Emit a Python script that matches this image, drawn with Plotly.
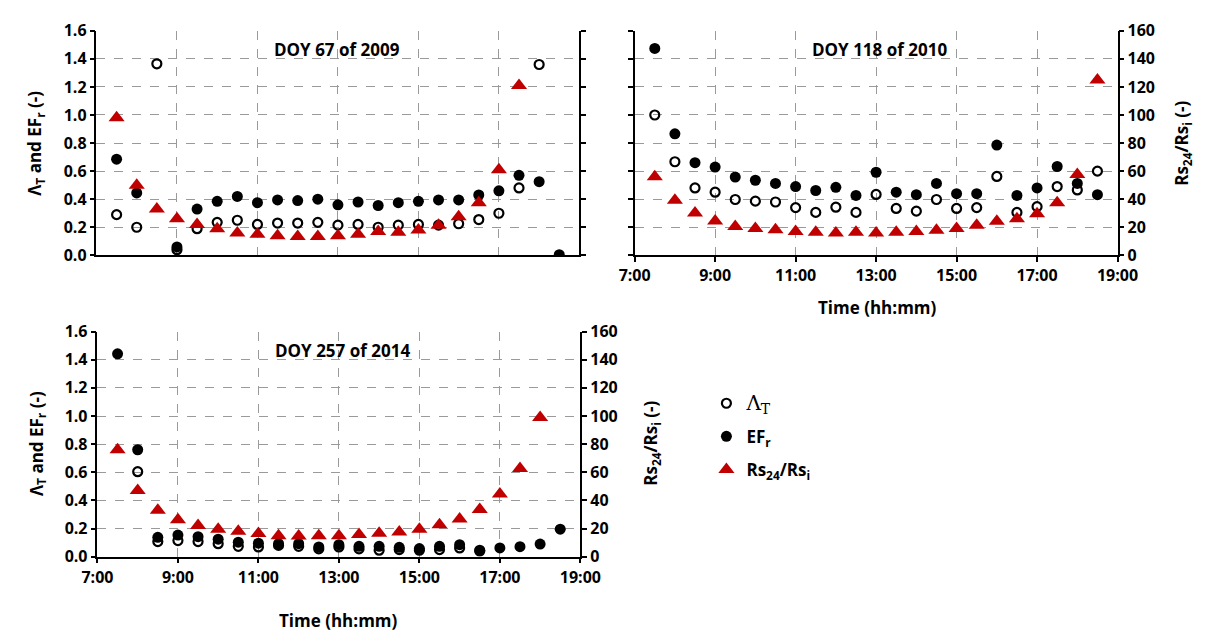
import plotly.graph_objects as go

# ---------------- data ----------------
times = ["7:30", "8:00", "8:30", "9:00", "9:30", "10:00", "10:30", "11:00", "11:30", "12:00",
         "12:30", "13:00", "13:30", "14:00", "14:30", "15:00", "15:30", "16:00", "16:30",
         "17:00", "17:30", "18:00", "18:30"]

# DOY 67 of 2009
lam_2009 = [0.29, 0.20, 1.365, 0.04, 0.19, 0.235, 0.25, 0.22, 0.23, 0.23, 0.235, 0.215, 0.22,
            0.20, 0.215, 0.22, 0.215, 0.225, 0.255, 0.30, 0.48, 1.36, None]
ef_2009 = [0.685, 0.445, None, 0.06, 0.33, 0.385, 0.42, 0.375, 0.395, 0.39, 0.40, 0.36, 0.38,
           0.355, 0.375, 0.385, 0.395, 0.395, 0.43, 0.46, 0.57, 0.525, 0.005]
rs_2009 = [98, 50, 33, 26, 22, 19, 16, 15, 14, 13.5, 13.5, 14, 15, 17, 16.5, 18, 21.5, 27.5,
           37.5, 61, 121, None, None]

# DOY 118 of 2010
lam_2010 = [1.00, 0.667, 0.48, 0.45, 0.398, 0.386, 0.38, 0.34, 0.306, 0.343, 0.306, 0.434,
            0.334, 0.315, 0.398, 0.334, 0.34, 0.562, 0.306, 0.347, 0.49, 0.466, 0.60]
ef_2010 = [1.474, 0.866, 0.66, 0.629, 0.558, 0.535, 0.512, 0.49, 0.462, 0.485, 0.427, 0.592,
           0.45, 0.432, 0.512, 0.439, 0.439, 0.786, 0.427, 0.48, 0.633, 0.512, 0.432]
rs_2010 = [56, 39.3, 30.2, 24.5, 20.6, 19.2, 18.3, 16.9, 16.5, 16, 16.5, 16, 16.5, 16.9, 17.8,
           19.2, 21.5, 24.2, 26, 29.7, 37.5, 57.6, 125]

# DOY 257 of 2014
lam_2014 = [None, 0.604, 0.107, 0.114, 0.107, 0.092, 0.073, 0.069, 0.08, 0.073, 0.055, 0.069,
            0.055, 0.046, 0.05, 0.046, 0.05, 0.062, 0.04, None, None, None, None]
ef_2014 = [1.442, 0.76, 0.137, 0.153, 0.142, 0.124, 0.103, 0.096, 0.092, 0.092, 0.069, 0.085,
           0.073, 0.073, 0.066, 0.057, 0.073, 0.085, 0.046, 0.062, 0.071, 0.089, 0.195]
rs_2014 = [76, 47, 33, 26.3, 22.2, 19.5, 18, 16.5, 14.9, 14.6, 14.9, 14.9, 15.8, 16.7, 17.6,
           19.5, 22.7, 26.8, 33.6, 44.6, 62.7, 98.9, None]

panel_titles = ["DOY 67 of 2009", "DOY 118 of 2010", "DOY 257 of 2014"]
x_tickvals = [7, 9, 11, 13, 15, 17, 19]
x_ticktext = ["7:00", "9:00", "11:00", "13:00", "15:00", "17:00", "19:00"]
left_ticks = [0.0, 0.2, 0.4, 0.6, 0.8, 1.0, 1.2, 1.4, 1.6]
right_ticks = [0, 20, 40, 60, 80, 100, 120, 140, 160]

# ---------------- helpers ----------------
def to_hours(t):
    h, m = t.split(":")
    return int(h) + int(m) / 60.0

xh = [to_hours(t) for t in times]

W, H = 1220, 642
FONT = "Open Sans"
RED = "#C00000"

def px_x(a, b):
    return [a / W, b / W]

def px_y(top, bottom):
    return [(H - bottom) / H, (H - top) / H]

fig = go.Figure()

panels = [
    dict(lam=lam_2009, ef=ef_2009, rs=rs_2009, xa="x", ya="y", ya2="y2"),
    dict(lam=lam_2010, ef=ef_2010, rs=rs_2010, xa="x2", ya="y3", ya2="y4"),
    dict(lam=lam_2014, ef=ef_2014, rs=rs_2014, xa="x3", ya="y5", ya2="y6"),
]

for i, p in enumerate(panels):
    show = (i == 0)
    fig.add_trace(go.Scatter(
        x=xh, y=p["rs"], mode="markers", xaxis=p["xa"], yaxis=p["ya2"],
        name="Rs<sub>24</sub>/Rs<sub>i</sub>", legendrank=3, legendgroup="rs", showlegend=show,
        marker=dict(symbol="triangle-up", size=14, color=RED, line=dict(width=0))))
    fig.add_trace(go.Scatter(
        x=xh, y=p["lam"], mode="markers", xaxis=p["xa"], yaxis=p["ya"],
        name="<span style=\"font-family:'DejaVu Serif';font-weight:normal;font-size:20px\">\u039b<sub>T</sub></span>",
        legendrank=1, legendgroup="lam", showlegend=show,
        marker=dict(symbol="circle-open", size=9, color="black", line=dict(width=2.2))))
    fig.add_trace(go.Scatter(
        x=xh, y=p["ef"], mode="markers", xaxis=p["xa"], yaxis=p["ya"],
        name="EF<sub>r</sub>", legendrank=2, legendgroup="ef", showlegend=show,
        marker=dict(symbol="circle", size=11, color="black")))

tickfont = dict(family=FONT, size=16, color="black", weight="bold")
grid = dict(showgrid=True, gridcolor="#9a9a9a", griddash="dash", gridwidth=1)
axline = dict(showline=True, linecolor="black", linewidth=1.5, zeroline=False,
              mirror=False, tickcolor="black", ticklen=5, tickwidth=1.5)

def xaxis(domain, anchor, labels):
    return dict(domain=domain, anchor=anchor, range=[7, 19], tickmode="array",
                tickvals=x_tickvals, ticktext=x_ticktext, showticklabels=labels,
                ticks="outside" if labels else "", tickfont=tickfont, **grid, **axline)

def yleft(domain, anchor, labels):
    return dict(domain=domain, anchor=anchor, range=[0, 1.6], tickmode="array",
                tickvals=left_ticks, ticktext=[f"{v:.1f}" for v in left_ticks],
                showticklabels=labels, ticks="outside", tickfont=tickfont,
                **grid, **axline)

def yright(overlay, anchor, labels):
    return dict(overlaying=overlay, anchor=anchor, side="right", range=[0, 160],
                tickmode="array", tickvals=right_ticks, ticktext=[str(v) for v in right_ticks],
                showticklabels=labels, ticks="outside", tickfont=tickfont, showgrid=False,
                **axline)

top_dom = px_y(20.5, 253)
bot_dom = px_y(332, 565)

fig.update_layout(
    width=W, height=H, margin=dict(l=0, r=0, t=0, b=0),
    paper_bgcolor="white", plot_bgcolor="white",
    font=dict(family=FONT, color="black"),
    xaxis=xaxis(px_x(83, 581), "y", False),
    yaxis=yleft(top_dom, "x", True),
    yaxis2=yright("y", "x", False),
    xaxis2=xaxis(px_x(638, 1136), "y3", True),
    yaxis3=yleft(top_dom, "x2", False),
    yaxis4=yright("y3", "x2", True),
    xaxis3=xaxis(px_x(84, 582), "y5", True),
    yaxis5=yleft(bot_dom, "x3", True),
    yaxis6=yright("y5", "x3", True),
    legend=dict(x=712 / W, y=(H - 388) / H, xanchor="left", yanchor="top",
                font=dict(family=FONT, size=17, color="black", weight="bold"),
                bgcolor="rgba(0,0,0,0)", itemsizing="trace", tracegroupgap=8),
)

def ann(text, x, y, angle=0, size=17):
    fig.add_annotation(text=text, x=x / W, y=(H - y) / H, xref="paper", yref="paper",
                       showarrow=False, textangle=angle, xanchor="center", yanchor="middle",
                       font=dict(family=FONT, size=size, color="black", weight="bold"))

# panel titles
ann(panel_titles[0], 331, 40)
ann(panel_titles[1], 891, 40)
ann(panel_titles[2], 337, 352)

# axis titles
left_title = "\u039b<sub>T</sub> and EF<sub>r</sub> (-)"
right_title = "Rs<sub>24</sub>/Rs<sub>i</sub> (-)"
ann(left_title, 20, 137, angle=-90)
ann(left_title, 22, 448, angle=-90)
ann(right_title, 1203, 137, angle=-90)
ann(right_title, 656, 448, angle=-90)
ann("Time (hh:mm)", 888, 307)
ann("Time (hh:mm)", 333, 631)

fig.write_html("out.html")
